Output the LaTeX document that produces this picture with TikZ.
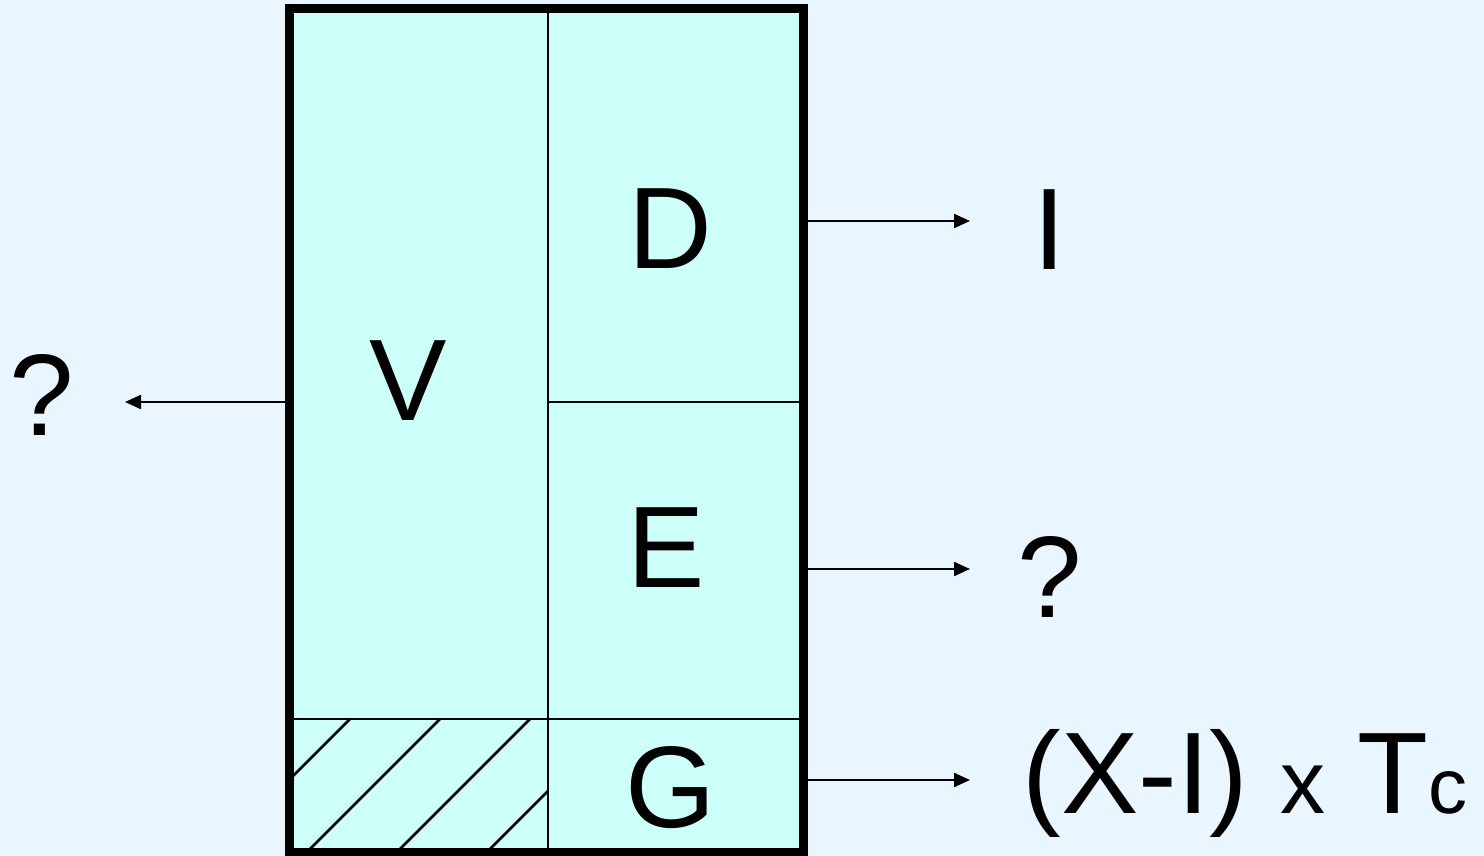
\documentclass[tikz,border=0pt]{standalone}
\usepackage{fontspec}
\setmainfont{Liberation Sans}
\usetikzlibrary{positioning,arrows.meta}
\definecolor{bgblue}{HTML}{E9F6FF}
\definecolor{cellfill}{HTML}{CCFFF7}
\tikzset{
  frame/.style={draw,line width=4.5pt,fill=cellfill},
  divider/.style={draw,line width=1.2pt},
  hatch/.style={draw,line width=1.4pt},
  arr/.style={-{Triangle[length=8pt,width=7pt]},line width=1.1pt},
  letter/.style={anchor=base,inner sep=0pt,font=\fontsize{58}{60}\selectfont}
}

\begin{document}
\begin{tikzpicture}[x=0.5pt,y=-0.5pt]
\fill[bgblue] (0,0) rectangle (1484,856);
\useasboundingbox (0,0) rectangle (1484,856);

% corners and split points of the box
\coordinate (nw) at (289.5,8.5);
\coordinate (se) at (803.5,852);
\coordinate (midtop) at (548,8.5);
\coordinate (midbot) at (548,852);
\coordinate (rowde) at (548,402);
\coordinate (rowg) at (289.5,719);

\path[frame] (nw) rectangle (se);
\begin{scope}
  \clip (rowg) rectangle (midbot);
  \foreach \x in {350,440,530,620}
    \draw[hatch] (\x,719) -- (\x-140,859);
\end{scope}
\draw[divider] (midtop) -- (midbot);
\draw[divider] (rowde) -- (rowde -| se);
\draw[divider] (rowg) -- (rowg -| se);
\path[frame,fill=none] (nw) rectangle (se);

% letters in the cells
\node[letter] (v) at (408,420) {V};
\node[letter] (d) at (670,268) {D};
\node[letter] (e) at (666,587) {E};
\node[letter] (g) at (671,827) {G};

% outputs
\node[letter] (outi) at (1050,270) {I};
\node[letter] (outq) at (1050,617) {?};
\node[letter] (outv) at (42,435) {?};
\node[letter,anchor=base west] (outg) at (1022,813)
  {(X-I) {\fontsize{45}{50}\selectfont x} T{\fontsize{39}{45}\selectfont c}};

\coordinate (tipi) at (970,221);
\coordinate (tipq) at (970,569);
\coordinate (tipg) at (970,780);
\coordinate (tipv) at (125,402);

\draw[arr] ([xshift=1.15pt]tipi -| se) -- (tipi);
\draw[arr] ([xshift=1.15pt]tipq -| se) -- (tipq);
\draw[arr] ([xshift=1.15pt]tipg -| se) -- (tipg);
\draw[arr] ([xshift=-1.15pt]tipv -| nw) -- (tipv);
\end{tikzpicture}
\end{document}
